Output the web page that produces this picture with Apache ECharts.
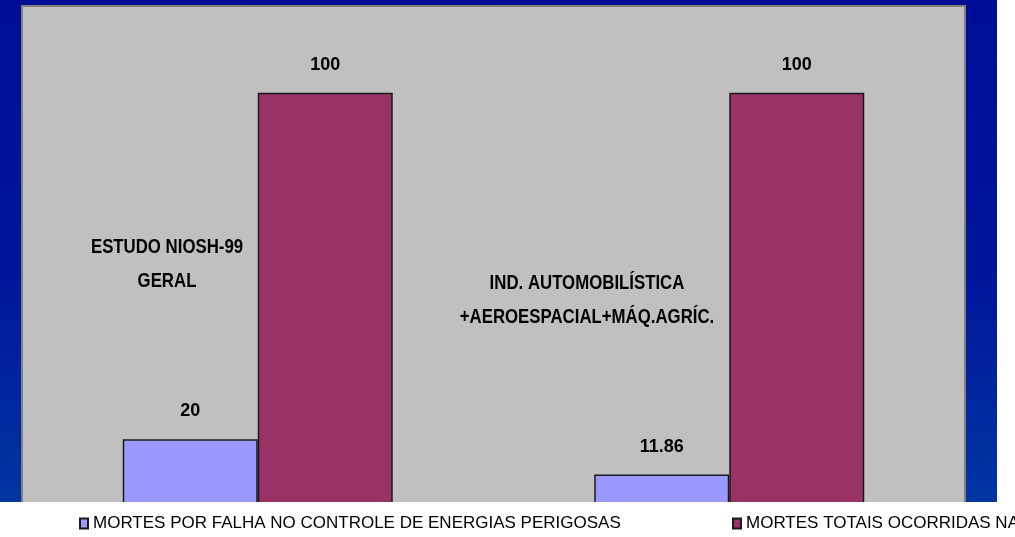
<!DOCTYPE html>
<html>
<head>
<meta charset="utf-8">
<script src="https://cdn.jsdelivr.net/npm/echarts@6/dist/echarts.min.js"></script>
<style>
    html, body { margin: 0; padding: 0; background: #fff; }
    .container { position: relative; width: 1015px; height: 537px; background: #fff; }
    .backdrop {
        position: absolute; left: 0; top: 0; width: 997px; height: 502px;
        background: linear-gradient(to bottom, #000e96 0%, #00169a 55%, #0036a2 100%);
    }
    #main { position: absolute; left: 0; top: 0; width: 1015px; height: 537px; }
</style>
</head>
<body>
<div class="container">
    <div class="backdrop"></div>
    <div id="main"></div>
</div>
<script>
var categories = ['ESTUDO NIOSH-99\nGERAL', 'IND. AUTOMOBILÍSTICA\n+AEROESPACIAL+MÁQ.AGRÍC.'];
var falhaValues = [20, 11.86];
var totaisValues = [100, 100];
var seriesNames = ['MORTES POR FALHA NO CONTROLE DE ENERGIAS PERIGOSAS', 'MORTES TOTAIS OCORRIDAS NA INDÚSTRIA'];

var fontFam = "'Liberation Sans Narrow', 'Arial Narrow', 'Liberation Sans', Arial, sans-serif";

var myChart = echarts.init(document.getElementById('main'));

var labelStyle = {
    show: true,
    position: 'top',
    distance: 19,
    color: '#000',
    fontFamily: fontFam,
    fontWeight: 'bold',
    fontSize: 18
};

var legendText = { fontFamily: fontFam, fontSize: 17, color: '#000' };

var option = {
    backgroundColor: 'transparent',
    animation: false,
    grid: {
        left: 22, right: 50, top: 6, bottom: 11,
        show: true,
        backgroundColor: '#c0c0c0',
        borderColor: '#808080',
        borderWidth: 2
    },
    xAxis: {
        type: 'category',
        data: categories,
        show: false
    },
    yAxis: {
        type: 'value',
        min: 0,
        max: 120,
        show: false
    },
    legend: [
        {
            data: [seriesNames[0]],
            left: 74, top: 510, z: 10,
            icon: 'rect', itemWidth: 8, itemHeight: 10,
            textStyle: legendText
        },
        {
            data: [seriesNames[1]],
            left: 727, top: 510, z: 10,
            icon: 'rect', itemWidth: 8, itemHeight: 10,
            textStyle: legendText
        }
    ],
    graphic: [
        // faixa branca da legenda, cobre a base do gráfico
        { type: 'rect', left: 21, top: 502, shape: { width: 994, height: 35 }, style: { fill: '#fff' }, z: 5 },
        {
            type: 'text', x: 167, y: 264, z: 6, scaleX: 0.8,
            style: {
                text: categories[0], align: 'center', verticalAlign: 'middle',
                font: 'bold 21px ' + fontFam, lineHeight: 34, fill: '#000'
            }
        },
        {
            type: 'text', x: 587, y: 300, z: 6, scaleX: 0.8,
            style: {
                text: categories[1], align: 'center', verticalAlign: 'middle',
                font: 'bold 21px ' + fontFam, lineHeight: 34, fill: '#000'
            }
        }
    ],
    series: [
        {
            name: seriesNames[0],
            type: 'bar',
            data: falhaValues,
            barWidth: 135,
            barGap: 0,
            itemStyle: { color: '#9999ff', borderColor: '#1a1a1a', borderWidth: 1.5 },
            label: labelStyle
        },
        {
            name: seriesNames[1],
            type: 'bar',
            data: totaisValues,
            barWidth: 135,
            barGap: 0,
            itemStyle: { color: '#993366', borderColor: '#1a1a1a', borderWidth: 1.5 },
            label: labelStyle
        }
    ]
};
myChart.setOption(option);
</script>
</body>
</html>
